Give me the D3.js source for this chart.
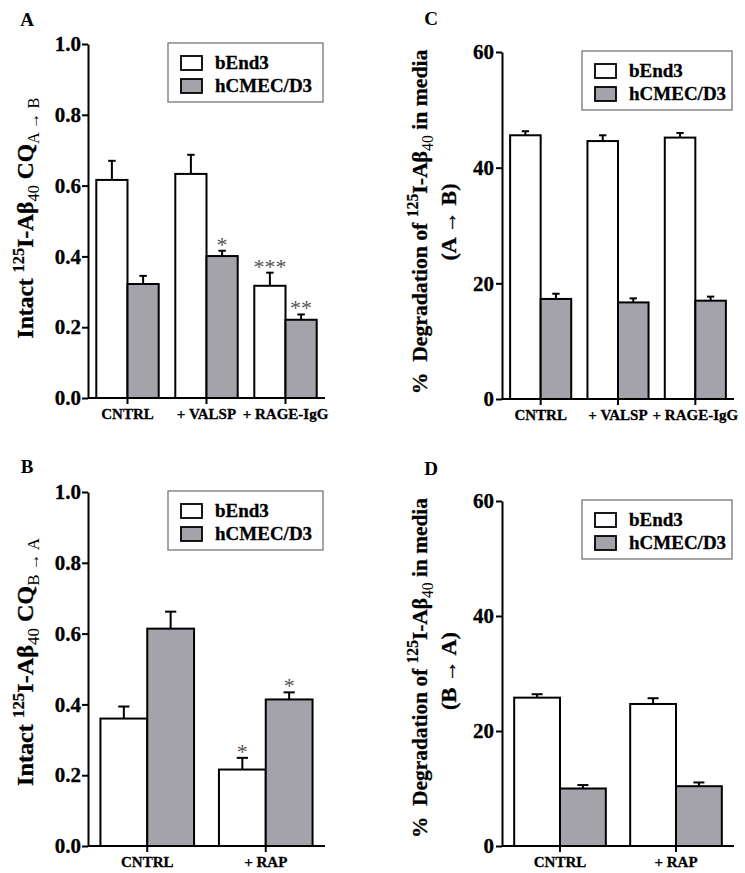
<!DOCTYPE html>
<html><head><meta charset="utf-8">
<script src="https://cdn.jsdelivr.net/npm/d3@7"></script>
<style>
body{margin:0;background:#fff}
svg{display:block}
text{font-family:"Liberation Serif","Times New Roman",serif;}
</style>
</head><body>
<svg id="c" width="745" height="873"></svg>
<script>
// ---------- data ----------
const seriesNames = ["bEnd3", "hCMEC/D3"];
const seriesFill = ["#ffffff", "#a3a3a9"];

const catsA = ["CNTRL", "+ VALSP", "+ RAGE-IgG"];
const bEnd3A = [0.616, 0.633, 0.317];
const bEnd3A_err = [0.054, 0.054, 0.037];
const hcmecA = [0.322, 0.401, 0.221];
const hcmecA_err = [0.023, 0.015, 0.015];
const starsA_bEnd3 = ["", "", "***"];
const starsA_hcmec = ["", "*", "**"];

const catsC = ["CNTRL", "+ VALSP", "+ RAGE-IgG"];
const bEnd3C = [45.6, 44.6, 45.2];
const bEnd3C_err = [0.7, 1.0, 0.8];
const hcmecC = [17.3, 16.7, 17.0];
const hcmecC_err = [0.9, 0.7, 0.7];

const catsB = ["CNTRL", "+ RAP"];
const bEnd3B = [0.360, 0.216];
const bEnd3B_err = [0.034, 0.033];
const hcmecB = [0.614, 0.414];
const hcmecB_err = [0.048, 0.020];
const starsB_bEnd3 = ["", "*"];
const starsB_hcmec = ["", "*"];

const catsD = ["CNTRL", "+ RAP"];
const bEnd3D = [25.8, 24.7];
const bEnd3D_err = [0.6, 1.0];
const hcmecD = [10.0, 10.4];
const hcmecD_err = [0.6, 0.65];

const ticksCQ = [0, 0.2, 0.4, 0.6, 0.8, 1.0];
const ticksDeg = [0, 20, 40, 60];

// ---------- drawing ----------
const svg = d3.select("#c");

function fitText(t, cx, cy, target) {
  const L = t.node().getComputedTextLength();
  const s = target / L;
  t.attr("transform", `translate(${cx},${cy}) rotate(-90) scale(${s},1)`);
}

function richText(g, parts, size) {
  const t = g.append("text").attr("text-anchor", "middle")
    .attr("font-weight", "bold").attr("font-size", size).attr("fill", "#000")
    .attr("stroke", "#000").attr("stroke-width", 0.3);
  let shift = 0;
  parts.forEach(p => {
    let target = 0;
    if (p.sup) target = -9;
    if (p.sub) target = 6;
    const ts = t.append("tspan").text(p.t).attr("dy", target - shift);
    shift = target;
    if (p.sup || p.sub) ts.attr("font-size", 16).attr("font-weight", p.sup ? "bold" : "normal")
      .attr("stroke-width", p.sup ? 0.2 : 0);
  });
  return t;
}

function panel(cfg) {
  const g = svg.append("g");
  const x = d3.scaleBand().domain(cfg.cats).range([cfg.x0, cfg.x1])
    .paddingInner(0.21).paddingOuter(0.105);
  const sub = d3.scaleBand().domain([0, 1]).range([0, x.bandwidth()]);
  const y = d3.scaleLinear().domain([0, cfg.ymax]).range([cfg.yBot, cfg.yTop]);

  // bars
  [0, 1].forEach(s => {
    cfg.cats.forEach((c, i) => {
      const v = cfg.vals[s][i], e = cfg.errs[s][i];
      const bx = x(c) + sub(s), bw = sub.bandwidth();
      const cx = bx + bw / 2, cw = bw * 0.12;
      g.append("line").attr("x1", cx).attr("x2", cx).attr("y1", y(v)).attr("y2", y(v + e))
        .attr("stroke", "#000").attr("stroke-width", 2);
      g.append("line").attr("x1", cx - cw).attr("x2", cx + cw).attr("y1", y(v + e)).attr("y2", y(v + e))
        .attr("stroke", "#000").attr("stroke-width", 2);
      g.append("rect").attr("x", bx).attr("y", y(v)).attr("width", bw).attr("height", y(0) - y(v))
        .attr("fill", seriesFill[s]).attr("stroke", "#000").attr("stroke-width", 2);
      const st = cfg.stars ? cfg.stars[s][i] : "";
      if (st) {
        g.append("text").attr("x", cx).attr("y", y(v + e) + 1).attr("text-anchor", "middle")
          .attr("font-size", 22).attr("fill", "#555").text(st);
      }
    });
  });

  // axes
  const ya = g.append("g").attr("transform", `translate(${cfg.x0},0)`)
    .call(d3.axisLeft(y).tickValues(cfg.ticks).tickFormat(cfg.fmt).tickSize(6).tickSizeOuter(0).tickPadding(cfg.tpad));
  const xa = g.append("g").attr("transform", `translate(0,${cfg.yBot})`)
    .call(d3.axisBottom(x).tickSize(6).tickSizeOuter(0).tickPadding(4));
  [ya, xa].forEach(a => {
    a.selectAll("path,line").attr("stroke", "#000").attr("stroke-width", 2);
    a.selectAll("text").attr("font-family", '"Liberation Serif",serif').attr("font-weight", "bold")
      .attr("fill", "#000").attr("stroke", "#000").attr("stroke-width", 0.3);
  });
  ya.selectAll("text").attr("font-size", 21);
  xa.selectAll("text").attr("font-size", 15);
  xa.select(".domain").attr("d", `M${cfg.x0},0H${cfg.x1}`);

  // legend
  const lx = cfg.x0 + 80, ly = cfg.yTop - 1, lw = cfg.x1 - 2 - lx, lh = 59;
  const lg = g.append("g");
  lg.append("rect").attr("x", lx).attr("y", ly).attr("width", lw).attr("height", lh)
    .attr("fill", "#fff").attr("stroke", "#777").attr("stroke-width", 1.3);
  seriesNames.forEach((n, i) => {
    lg.append("rect").attr("x", lx + 13).attr("y", ly + 13 + i * 23).attr("width", 21).attr("height", 14)
      .attr("fill", seriesFill[i]).attr("stroke", "#000").attr("stroke-width", 1.8);
    lg.append("text").attr("x", lx + 47).attr("y", ly + 26 + i * 23)
      .attr("font-size", 19).attr("font-weight", "bold").attr("fill", "#000")
      .attr("stroke", "#000").attr("stroke-width", 0.3).text(n);
  });

  // panel letter
  g.append("text").attr("x", cfg.lX).attr("y", cfg.lY).attr("text-anchor", "middle")
    .attr("font-size", 19).attr("font-weight", "bold").text(cfg.letter);

  // y title
  cfg.titles.forEach(tt => {
    const t = richText(g, tt.parts, tt.size);
    fitText(t, tt.x, tt.cy, tt.len);
  });
}

const fmt1 = d3.format(".1f");
const fmt0 = d3.format("d");
const NB = "\u00a0";

panel({
  letter: "A", lX: 27, lY: 26, cats: catsA,
  vals: [bEnd3A, hcmecA], errs: [bEnd3A_err, hcmecA_err], stars: [starsA_bEnd3, starsA_hcmec],
  x0: 88, x1: 325, yTop: 44, yBot: 398, ymax: 1.0, ticks: ticksCQ, fmt: fmt1, tpad: 1,
  titles: [{ x: 33, cy: 218, len: 241, size: 23,
    parts: [{t: "Intact "}, {t: "125", sup: 1}, {t: "I-Aβ"}, {t: "40", sub: 1}, {t: " CQ"}, {t: "A → B", sub: 1}] }]
});
panel({
  letter: "C", lX: 431, lY: 25, cats: catsC,
  vals: [bEnd3C, hcmecC], errs: [bEnd3C_err, hcmecC_err], stars: null,
  x0: 502, x1: 734, yTop: 52, yBot: 399, ymax: 60, ticks: ticksDeg, fmt: fmt0, tpad: 2,
  titles: [
    { x: 427, cy: 222, len: 345, size: 22,
      parts: [{t: "%" + NB + NB + "Degradation of "}, {t: "125", sup: 1}, {t: "I-Aβ"}, {t: "40", sub: 1}, {t: " in media"}] },
    { x: 456, cy: 222, len: 77, size: 22, parts: [{t: "(A → B)"}] }
  ]
});
panel({
  letter: "B", lX: 27, lY: 473, cats: catsB,
  vals: [bEnd3B, hcmecB], errs: [bEnd3B_err, hcmecB_err], stars: [starsB_bEnd3, starsB_hcmec],
  x0: 88, x1: 325, yTop: 492, yBot: 846, ymax: 1.0, ticks: ticksCQ, fmt: fmt1, tpad: 1,
  titles: [{ x: 33, cy: 662, len: 248, size: 23,
    parts: [{t: "Intact "}, {t: "125", sup: 1}, {t: "I-Aβ"}, {t: "40", sub: 1}, {t: " CQ"}, {t: "B → A", sub: 1}] }]
});
panel({
  letter: "D", lX: 431, lY: 475, cats: catsD,
  vals: [bEnd3D, hcmecD], errs: [bEnd3D_err, hcmecD_err], stars: null,
  x0: 502, x1: 734, yTop: 501, yBot: 846, ymax: 60, ticks: ticksDeg, fmt: fmt0, tpad: 2,
  titles: [
    { x: 427, cy: 668, len: 340, size: 22,
      parts: [{t: "%" + NB + NB + "Degradation of "}, {t: "125", sup: 1}, {t: "I-Aβ"}, {t: "40", sub: 1}, {t: " in media"}] },
    { x: 456, cy: 671, len: 78, size: 22, parts: [{t: "(B → A)"}] }
  ]
});
</script>
</body></html>
